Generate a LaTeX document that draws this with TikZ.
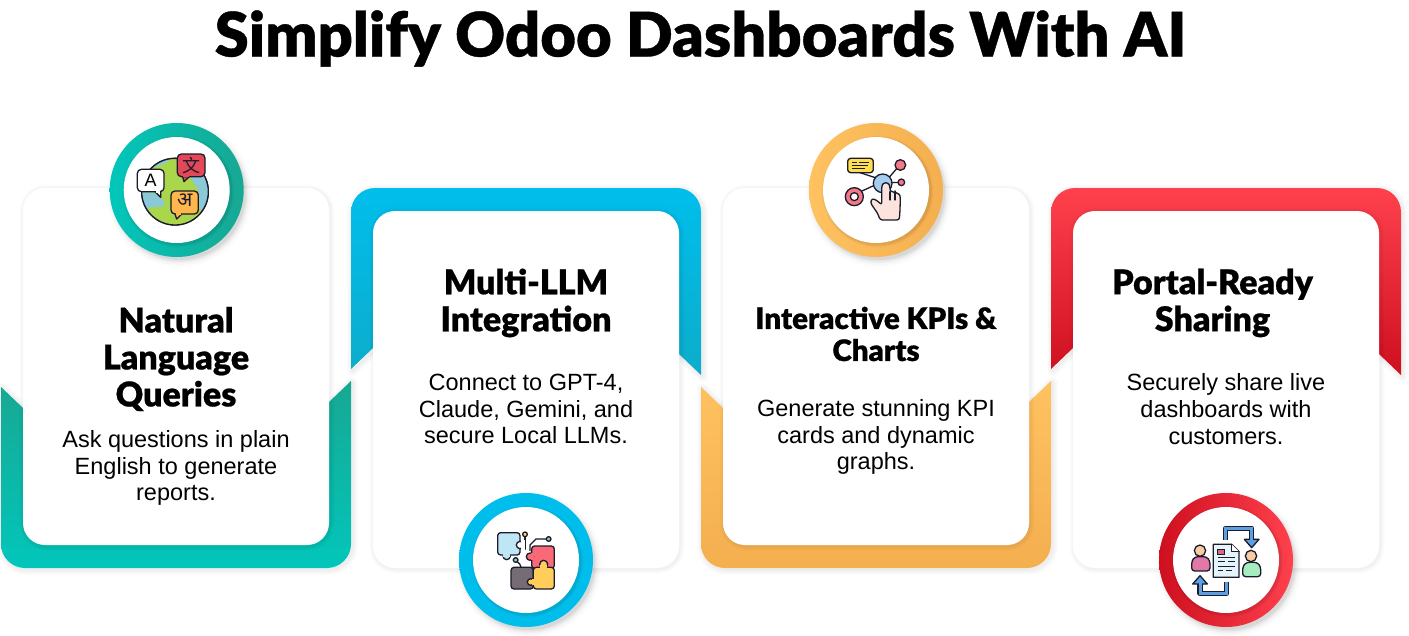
\documentclass[tikz,border=0pt]{standalone}
\usepackage{fontspec}
\setmainfont{Liberation Sans}
\newfontfamily\heavy[FakeBold=0.6]{Lato Black}
\newfontfamily\bodyf{Liberation Sans}
\newfontfamily\cjkf{Noto Sans CJK SC}
\newfontfamily\devf[Script=Devanagari]{Noto Sans}
\definecolor{ink}{HTML}{1B1B2B}
\definecolor{greenA}{HTML}{17A892}\definecolor{greenB}{HTML}{02C6BB}
\definecolor{blueA}{HTML}{00BEEB}\definecolor{blueB}{HTML}{0DACCB}
\definecolor{orA}{HTML}{FFC261}\definecolor{orB}{HTML}{F4AF4F}
\definecolor{redA}{HTML}{FF414E}\definecolor{redB}{HTML}{CE0F1F}
\tikzset{
  card/.style={fill=white,rounded corners=22pt},
  head/.style={font=\heavy\fontsize{34}{37}\selectfont,align=center,text=black,inner sep=0pt},
  headsmall/.style={font=\heavy\fontsize{29.5}{32}\selectfont,align=center,text=black,inner sep=0pt},
  body/.style={font=\bodyf\fontsize{23.5}{26.7}\selectfont,align=center,text=black,inner sep=0pt},
  ic/.style={draw=ink,line width=1.3pt,line join=round,line cap=round},
  icon/.style={x=.33333pt,y=-.33333pt},
}
\newcommand\softshade[1]{\foreach \w in {1,3,...,11}{\draw[black,opacity=.012,line width=\w pt,line join=round,xshift=1.5pt,yshift=-1.5pt] #1;}}
\newcommand\cardshadow[4]{\foreach \w in {1,3,...,9}{\draw[black,opacity=.010,line width=\w pt,rounded corners=22pt,xshift=1pt,yshift=-1pt] (#1,#2) rectangle (#3,#4);}}
\newcommand\ring[4]{% x,y,colA,colB
  \foreach \r/\o in {66/.05,67.5/.04,69/.03,71/.02,73/.012}{\fill[black,opacity=\o] (#1+3,#2+4) circle[radius=\r pt];}
  \shade[left color=#3,right color=#4] (#1,#2) circle[radius=67pt];
  \foreach \r/\o in {54/.05,55/.03,56/.02}{\fill[black,opacity=\o] (#1+1.5,#2+1.5) circle[radius=\r pt];}
  \fill[white] (#1,#2) circle[radius=53pt];
}
\def\greenpath{(1,387) -- (23,408) -- (329,402) -- (351,381) -- (351,544) arc[start angle=0,end angle=-90,radius=24pt] -- (25,568) arc[start angle=-90,end angle=-180,radius=24pt] -- cycle}
\def\bluepath{(351,369) -- (373,348) -- (679,354) -- (701,375) -- (701,212) arc[start angle=0,end angle=90,radius=24pt] -- (375,188) arc[start angle=90,end angle=180,radius=24pt] -- cycle}
\def\orangepath{(701,387) -- (723,408) -- (1029,402) -- (1051,381) -- (1051,544) arc[start angle=0,end angle=-90,radius=24pt] -- (725,568) arc[start angle=-90,end angle=-180,radius=24pt] -- cycle}
\def\redpath{(1051,369) -- (1073,348) -- (1379,354) -- (1401,375) -- (1401,212) arc[start angle=0,end angle=90,radius=24pt] -- (1075,188) arc[start angle=90,end angle=180,radius=24pt] -- cycle}
\begin{document}
\begin{tikzpicture}[x=1pt,y=-1pt]
\useasboundingbox (0,0) rectangle (1409,635);
\fill[white] (0,0) rectangle (1409,635);
\node[font=\heavy\fontsize{61.5}{61.5}\selectfont,inner sep=0pt] (title) at (700.5,38.5) {Simplify Odoo Dashboards With AI};

% panels
\softshade{\greenpath}
\shade[top color=greenA,bottom color=greenB] \greenpath;
\cardshadow{23}{188}{329}{545}
\node[card,minimum width=306pt,minimum height=357pt,inner sep=0pt] (card1) at (176,366.5) {};

\softshade{\bluepath}
\shade[top color=blueA,middle color=blueA,bottom color=blueB] \bluepath;
\cardshadow{373}{211}{679}{568}
\node[card,minimum width=306pt,minimum height=357pt,inner sep=0pt] (card2) at (526,389.5) {};

\softshade{\orangepath}
\shade[top color=orA,bottom color=orB] \orangepath;
\cardshadow{723}{188}{1029}{545}
\node[card,minimum width=306pt,minimum height=357pt,inner sep=0pt] (card3) at (876,366.5) {};

\softshade{\redpath}
\shade[top color=redA,bottom color=redB] \redpath;
\cardshadow{1073}{211}{1379}{568}
\node[card,minimum width=306pt,minimum height=357pt,inner sep=0pt] (card4) at (1226,389.5) {};

% text
\node[head] (t1) at (176,359) {Natural\\Language\\Queries};
\node[body] (b1) at (176,468) {Ask questions in plain\\English to generate\\reports.};
\node[head] (t2) at (526,303) {Multi-LLM\\Integration};
\node[body] (b2) at (526,409) {Connect to GPT-4,\\Claude, Gemini, and\\secure Local LLMs.};
\node[headsmall] (t3) at (876,334) {Interactive KPIs \&\\Charts};
\node[body] (b3) at (876,437) {Generate stunning KPI\\cards and dynamic\\graphs.};
\node[head] (t4) at (1212.5,303) {Portal-Ready\\Sharing};
\node[body] (b4) at (1226,409) {Securely share live\\dashboards with\\customers.};

% rings
\ring{176.7}{190}{greenB}{greenA}
\ring{526}{560}{blueA}{blueA}
\ring{876}{190}{orA}{orB}
\ring{1226}{560}{redB}{redA}

% icon 1: globe
\begin{scope}[shift={(90,110)},icon]
  \path[ic,fill=white] (255,245) circle[radius=100];
  \begin{scope}
    \clip (255,245) circle[radius=100];
    \fill[fill={rgb,255:red,169;green,214;blue,75}] (150,140) rectangle (360,350);
    \fill[fill={rgb,255:red,140;green,201;blue,216}] (150,250) .. controls (180,240) and (215,250) .. (225,285) .. controls (205,300) and (180,280) .. (175,300) -- (150,310) -- cycle;
    \fill[fill={rgb,255:red,140;green,201;blue,216}] (300,200) -- (360,190) -- (360,300) -- (330,300) -- (325,240) -- cycle;
    \fill[fill={rgb,255:red,140;green,201;blue,216}] (240,140) .. controls (235,170) and (190,165) .. (170,180) -- (170,140) -- cycle;
  \end{scope}
  \draw[ic] (255,245) circle[radius=100];
  \draw[ic,fill=white] (195,245) -- (212,262) -- (212,245);
  \draw[ic,fill=white,rounded corners=4pt] (142,178) rectangle (222,245);
  \fill[white] (197,241) rectangle (210,248);
  \node[font=\bodyf\fontsize{18}{18}\selectfont,inner sep=0pt] (lA) at (182,212) {A};
  \draw[ic,fill={rgb,255:red,226;green,72;blue,88}] (278,200) -- (282,215) -- (298,200);
  \draw[ic,fill={rgb,255:red,226;green,72;blue,88},rounded corners=4pt] (262,132) rectangle (345,200);
  \fill[fill={rgb,255:red,226;green,72;blue,88}] (280,196) rectangle (296,202);
  \node[font=\cjkf\fontsize{18}{18}\selectfont,inner sep=0pt,text=ink] (lB) at (303,166) {文};
  \draw[ic,fill={rgb,255:red,255;green,183;blue,77}] (255,312) -- (260,327) -- (275,312);
  \draw[ic,fill={rgb,255:red,255;green,183;blue,77},rounded corners=4pt] (243,243) rectangle (325,312);
  \fill[fill={rgb,255:red,255;green,183;blue,77}] (257,308) rectangle (273,314);
  \node[font=\devf\fontsize{20}{20}\selectfont,inner sep=0pt,text=ink] (lC) at (284,272) {अ};
\end{scope}

% icon 2: puzzle
\begin{scope}[shift={(450,480)},icon]
  \draw[ic] (225,163) -- (225,208);
  \draw[ic,fill={rgb,255:red,255;green,214;blue,100}] (225,163) circle[radius=7];
  \draw[ic] (288,177) -- (258,177) -- (240,195) -- (240,212);
  \draw[ic,fill={rgb,255:red,125;green,210;blue,190}] (296,177) circle[radius=7];
  \draw[ic] (203,246) .. controls (215,255) and (210,262) .. (218,272);
  \draw[ic,fill={rgb,255:red,125;green,210;blue,190}] (197,240) circle[radius=7];
  % blue
  \draw[ic,fill={rgb,255:red,190;green,230;blue,245}] (170,228) circle[radius=11];
  \draw[ic,fill={rgb,255:red,190;green,230;blue,245},rounded corners=3pt] (143,158) rectangle (210,225);
  \fill[fill={rgb,255:red,190;green,230;blue,245}] (160,218) rectangle (180,230);
  \draw[ic,fill=white] (210,195) circle[radius=11];
  \fill[white] (212,180) rectangle (224,210);
  % dark
  \draw[ic,fill={rgb,255:red,118;green,108;blue,118},rounded corners=3pt] (183,262) rectangle (250,327);
  % red
  \draw[ic,fill={rgb,255:red,250;green,105;blue,120},rounded corners=3pt] (245,198) rectangle (313,265);
  \draw[ic,fill={rgb,255:red,250;green,105;blue,120}] (240,230) circle[radius=11];
  \fill[fill={rgb,255:red,250;green,105;blue,120}] (243,219) rectangle (252,241);
  % yellow
  \draw[ic,fill={rgb,255:red,255;green,205;blue,90},rounded corners=3pt] (250,262) rectangle (313,327);
  \draw[ic,fill={rgb,255:red,255;green,205;blue,90}] (281,253) circle[radius=12];
  \fill[fill={rgb,255:red,255;green,205;blue,90}] (270,256) rectangle (292,268);
  \draw[ic,fill={rgb,255:red,255;green,205;blue,90}] (242,306) circle[radius=10];
  \fill[fill={rgb,255:red,255;green,205;blue,90}] (245,297) rectangle (256,315);
\end{scope}

% icon 3: network and hand
\begin{scope}[shift={(800,110)},icon]
  \draw[ic] (180,188) -- (232,205);
  \draw[ic] (175,248) -- (225,225);
  \draw[ic] (265,205) -- (295,170);
  \draw[ic] (270,218) -- (300,217);
  \draw[ic,fill={rgb,255:red,255;green,221;blue,80},rounded corners=3pt] (143,145) rectangle (220,188);
  \draw[line width=1pt,ink] (155,158) -- (170,158) (178,158) -- (208,158) (155,175) -- (195,175) (155,166) -- (205,166);
  \draw[ic,fill={rgb,255:red,244;green,120;blue,135}] (301,165) circle[radius=16];
  \draw[ic,fill={rgb,255:red,244;green,120;blue,135}] (304,217) circle[radius=10];
  \draw[ic,fill={rgb,255:red,244;green,120;blue,135}] (163,260) circle[radius=27];
  \draw[ic,fill=white] (163,260) circle[radius=12];
  \draw[ic,fill={rgb,255:red,165;green,205;blue,240}] (248,220) circle[radius=28];
  \draw[ic,fill={rgb,255:red,252;green,228;blue,220},rounded corners=2.5pt] (240,330) -- (234,312) -- (211,278) -- (216,265) -- (232,272) -- (245,285) -- (245,228) -- (251,218) -- (264,218) -- (270,228) -- (270,245) -- (285,245) -- (285,250) -- (298,250) -- (301,262) -- (300,300) -- (298,330) -- cycle;
  \draw[ic] (270,245) -- (270,270) (285,250) -- (285,270);
\end{scope}

% icon 4: sharing
\begin{scope}[shift={(1150,480)},icon]
  \draw[ink,line width=5.5pt,line join=round] (227,180) -- (227,145) -- (305,145) -- (305,180);
  \draw[ink,line width=5.5pt,line join=round] (230,305) -- (230,340) -- (150,340) -- (150,305);
  \draw[ic,fill={rgb,255:red,92;green,160;blue,225}] (283,178) -- (327,178) -- (305,203) -- cycle;
  \draw[ic,fill={rgb,255:red,92;green,160;blue,225}] (128,312) -- (172,312) -- (150,287) -- cycle;
  \draw[line width=3pt,color={rgb,255:red,92;green,160;blue,225}] (227,180) -- (227,145) -- (305,145) -- (305,182);
  \draw[line width=3pt,color={rgb,255:red,92;green,160;blue,225}] (230,305) -- (230,340) -- (150,340) -- (150,310);
  % left person
  \draw[ic,fill={rgb,255:red,226;green,120;blue,165},rounded corners=3pt] (125,273) -- (125,243) -- (135,230) -- (170,230) -- (180,243) -- (180,273) -- cycle;
  \draw[ic,fill={rgb,255:red,248;green,203;blue,160}] (150,212) circle[radius=17];
  % right person
  \draw[ic,fill={rgb,255:red,165;green,237;blue,190},rounded corners=3pt] (278,290) -- (278,260) -- (288,247) -- (322,247) -- (332,260) -- (332,290) -- cycle;
  \draw[ic,fill={rgb,255:red,248;green,203;blue,160}] (303,228) circle[radius=17];
  % document
  \draw[ic,fill={rgb,255:red,228;green,244;blue,250}] (190,193) -- (245,193) -- (267,215) -- (267,292) -- (190,292) -- cycle;
  \draw[ic,fill=white] (245,193) -- (245,215) -- (267,215);
  \draw[ink,fill={rgb,255:red,226;green,100;blue,120},line width=.8pt] (203,208) rectangle (222,222);
  \draw[ink,line width=1pt] (203,232) -- (255,232) (203,245) -- (225,245) (235,245) -- (255,245) (203,258) -- (255,258) (203,272) -- (218,272) (228,272) -- (245,272);
\end{scope}
\end{tikzpicture}
\end{document}
